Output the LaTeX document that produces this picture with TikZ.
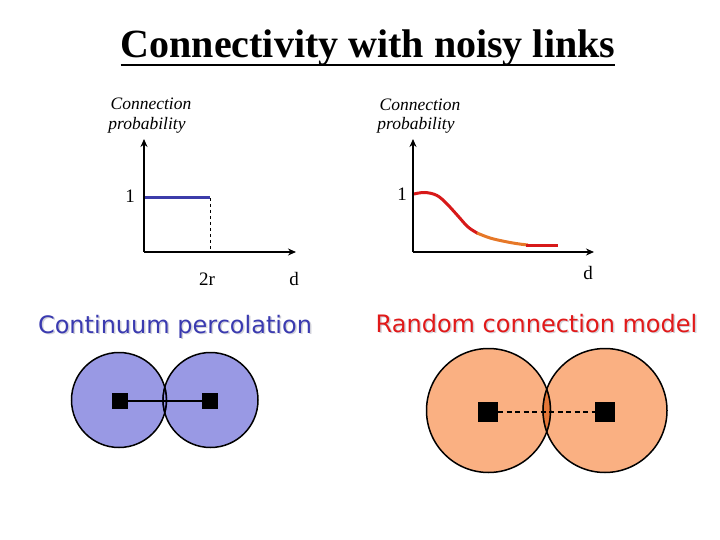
\documentclass[tikz,border=0pt]{standalone}
\usepackage{fontspec}
\setmainfont{Liberation Serif}
\newfontfamily\casual{DejaVu Sans}
\usetikzlibrary{arrows.meta}
\definecolor{bluefill}{RGB}{153,153,228}
\definecolor{bluetext}{RGB}{58,58,176}
\definecolor{blueline}{RGB}{60,60,170}
\definecolor{peach}{RGB}{250,176,130}
\definecolor{lensor}{RGB}{228,118,55}
\definecolor{curvered}{RGB}{215,25,25}
\definecolor{curveor}{RGB}{230,120,40}
\definecolor{redtext}{RGB}{225,25,25}
\definecolor{shadowgray}{RGB}{210,210,218}
\begin{document}
\begin{tikzpicture}[x=1pt,y=-1pt,
  axis/.style={line width=2.8pt,-{Stealth[length=8pt,width=7pt]}},
  ylab/.style={font=\fontsize{17.5}{20}\selectfont\itshape,anchor=base,inner sep=0pt},
  numlab/.style={font=\fontsize{19}{20}\selectfont,anchor=base,inner sep=0pt},
  casualtext/.style={anchor=base,inner sep=0pt,font=\casual\fontsize{24}{28}\selectfont},
  sq/.style={fill=black,draw=none,minimum size=#1,inner sep=0pt},
  disc/.style={draw=black,line width=1.5pt}]
\useasboundingbox (0,0) rectangle (720,540);
% title
\node[anchor=base,inner sep=0pt,font=\fontsize{40}{44}\selectfont\bfseries] (title) at (368,58) {Connectivity with noisy links};
\draw[line width=1.8pt] ([yshift=-7pt]title.base west) -- ([yshift=-7pt]title.base east);

% left chart
\coordinate (lo) at (144,252);
\coordinate (ly) at (144,139);
\coordinate (lx) at (296,252);
\node[ylab] (lc1) at (151,110) {Connection};
\node[ylab] (lc2) at (147,130) {probability};
\coordinate (lb1) at (144,198);
\coordinate (lb2) at (210,198);
\coordinate (lb3) at (210,252);
\draw[dashed,line width=0.6pt] (lb2) -- (lb3);
\draw[line width=3pt,blueline] (lb1) -- (lb2);
\draw[axis] (lo) -- (ly);
\draw[axis] (lo) -- (lx);
\node[numlab] (l1) at (130,203) {1};
\node[numlab] (l2r) at (207,285) {2r};
\node[numlab] (ld) at (294,285) {d};

% right chart
\coordinate (ro) at (413,252);
\coordinate (ry) at (413,139);
\coordinate (rx) at (594,252);
\node[ylab] (rc1) at (420,110.5) {Connection};
\node[ylab] (rc2) at (416,130) {probability};
\draw[line width=3pt,curvered,line cap=round] plot[smooth,tension=0.6] coordinates {(414,194) (425,192.5) (437,195.5) (447,204) (458,216) (468,227) (478,233.5)};
\draw[line width=3pt,curveor] plot[smooth,tension=0.6] coordinates {(477,233) (490,238) (505,241.5) (518,243.8) (528,245)};
\draw[line width=3pt,curvered] (526,245) -- (558,245);
\draw[axis] (ro) -- (ry);
\draw[axis] (ro) -- (rx);
\node[numlab] (r1) at (402,201) {1};
\node[numlab] (rd) at (588,279) {d};

% bottom left
\node[casualtext,text=shadowgray] (cps) at (176.5,334.5) {Continuum percolation};
\node[casualtext,text=bluetext] (cp) at (175,333) {Continuum percolation};
\fill[bluefill] (119,400) circle (47.5);
\fill[bluefill] (210.5,400) circle (47.5);
\begin{scope}
  \clip (119,400) circle (47.5);
  \draw[line width=1.3pt,blue!50!black] (210.5,400) circle (47.5);
\end{scope}
\begin{scope}
  \clip (210.5,400) circle (47.5);
  \draw[line width=1.3pt,blue!50!black] (119,400) circle (47.5);
\end{scope}
\node[sq=16pt] (ba) at (120,401) {};
\node[sq=16pt] (bb) at (210,401) {};
\draw[line width=1.2pt] (ba) -- (bb);
\draw[disc] (119,400) circle (47.5);
\draw[disc] (210.5,400) circle (47.5);

% bottom right
\node[casualtext,text=shadowgray] (rcms) at (538,333.5) {Random connection model};
\node[casualtext,text=redtext] (rcm) at (536.5,332) {Random connection model};
\fill[peach] (488.5,410.5) circle (62);
\fill[peach] (605,410.5) circle (62);
\begin{scope}
  \clip (488.5,410.5) circle (62);
  \fill[lensor] (605,410.5) circle (62);
  \draw[line width=1.3pt,brown!70!black] (605,410.5) circle (62);
\end{scope}
\begin{scope}
  \clip (605,410.5) circle (62);
  \draw[line width=1.3pt,brown!70!black] (488.5,410.5) circle (62);
\end{scope}
\node[sq=20pt] (ra) at (488,412) {};
\node[sq=20pt] (rb) at (605,412) {};
\draw[dash pattern=on 5pt off 3.5pt,line width=1.2pt] (ra) -- (rb);
\draw[disc] (488.5,410.5) circle (62);
\draw[disc] (605,410.5) circle (62);
\end{tikzpicture}
\end{document}
